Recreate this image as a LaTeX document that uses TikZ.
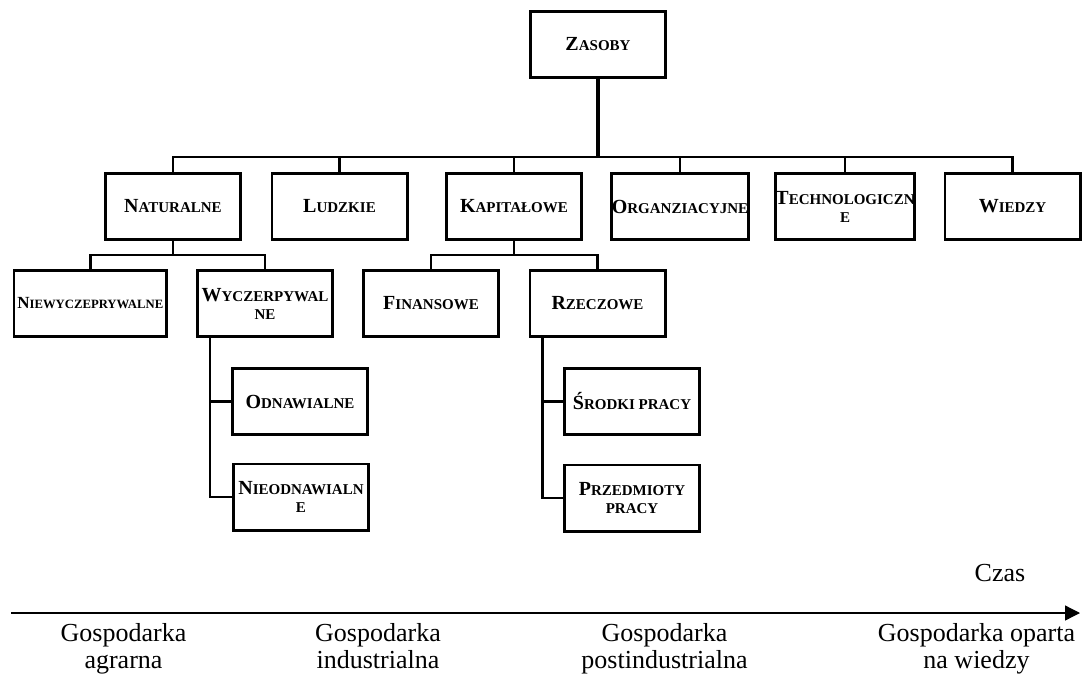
\documentclass[tikz,border=0pt]{standalone}
\usepackage{fontspec}
\setmainfont{Liberation Serif}
\usetikzlibrary{arrows.meta}

% bold small caps: first letter full size, the rest reduced
\newcommand\sca[2]{{\fontsize{20}{18}\selectfont #1}#2}
\newcommand\scb[2]{{\fontsize{17}{16}\selectfont #1}#2}

\tikzset{
  box/.style={draw, line width=2.8pt, minimum width=135.2pt, minimum height=66.2pt,
    inner sep=0pt, align=center, font=\fontsize{15}{18}\selectfont\bfseries},
  widebox/.style={box, minimum width=152.5pt, font=\fontsize{12.7}{16}\selectfont\bfseries},
  conn/.style={line width=2.8pt},
  trunk/.style={line width=3.8pt},
  axis/.style={line width=1.3pt, -{Triangle[length=15pt,width=15pt]}},
  era/.style={align=center, anchor=north, inner sep=0pt, font=\fontsize{26}{27}\selectfont}
}

\begin{document}
\begin{tikzpicture}[x=1pt, y=-1pt]
  \useasboundingbox (0,0) rectangle (1085,677);

  % root
  \node[box] (zasoby) at (598,44.5) {\sca{Z}{ASOBY}};

  % first level
  \node[box] (naturalne) at (173,206.5) {\sca{N}{ATURALNE}};
  \node[box] (ludzkie) at (339.5,206.5) {\sca{L}{UDZKIE}};
  \node[box] (kapitalowe) at (514,206.5) {\sca{K}{APITAŁOWE}};
  \node[box] (organizacyjne) at (680,206.5) {\sca{O}{RGANZIACYJNE}};
  \node[box] (technologiczne) at (845,206.5) {\sca{T}{ECHNOLOGICZN}\\E};
  \node[box] (wiedzy) at (1012.5,206.5) {\sca{W}{IEDZY}};

  % second level
  \node[widebox] (niewycz) at (90.3,303.5) {\scb{N}{IEWYCZEPRYWALNE}};
  \node[box] (wycz) at (265,303.5) {\sca{W}{YCZERPYWAL}\\NE};
  \node[box] (finansowe) at (431,303.5) {\sca{F}{INANSOWE}};
  \node[box] (rzeczowe) at (597.5,303.5) {\sca{R}{ZECZOWE}};

  % third level
  \node[box] (odn) at (300,401.5) {\sca{O}{DNAWIALNE}};
  \node[box] (nieodn) at (301,497) {\sca{N}{IEODNAWIALN}\\E};
  \node[box] (srodki) at (632,401.5) {\sca{Ś}{RODKI PRACY}};
  \node[box] (przedm) at (632,498) {\sca{P}{RZEDMIOTY}\\PRACY};

  % bus levels and side stems
  \coordinate (bus) at (0,157);
  \coordinate (subbus) at (0,255);
  \coordinate (wstem) at (210,0);
  \coordinate (rstem) at (542.5,0);

  % root to first level
  \draw[trunk] (zasoby.south) -- (zasoby.south |- bus);
  \draw[conn] (naturalne.north) |- (wiedzy.north |- bus) -- (wiedzy.north);
  \foreach \n in {ludzkie,kapitalowe,organizacyjne,technologiczne}
    \draw[conn] (\n.north) -- (\n.north |- bus);

  % naturalne branch
  \draw[conn] (naturalne.south) -- (naturalne.south |- subbus);
  \draw[conn] (niewycz.north) |- (wycz.north |- subbus) -- (wycz.north);

  % kapitalowe branch
  \draw[conn] (kapitalowe.south) -- (kapitalowe.south |- subbus);
  \draw[conn] (finansowe.north) |- (rzeczowe.north |- subbus) -- (rzeczowe.north);

  % side stems
  \draw[conn] (wycz.south -| wstem) |- (nieodn.west);
  \draw[conn] (odn.west) -- (odn.west -| wstem);
  \draw[conn] (rzeczowe.south -| rstem) |- (przedm.west);
  \draw[conn] (srodki.west) -- (srodki.west -| rstem);

  % time axis
  \coordinate (t0) at (11,613);
  \coordinate (t1) at (1080,613);
  \draw[axis] (t0) -- (t1);
  \node[anchor=base, inner sep=0pt, font=\fontsize{26}{26}\selectfont] (czas) at (1000,581) {Czas};

  \node[era] (agr) at (123.5,623) {Gospodarka\\agrarna};
  \node[era] (ind) at (378,623) {Gospodarka\\industrialna};
  \node[era] (post) at (664.5,623) {Gospodarka\\postindustrialna};
  \node[era] (wiedza) at (976.5,623) {Gospodarka oparta\\na wiedzy};
\end{tikzpicture}
\end{document}
